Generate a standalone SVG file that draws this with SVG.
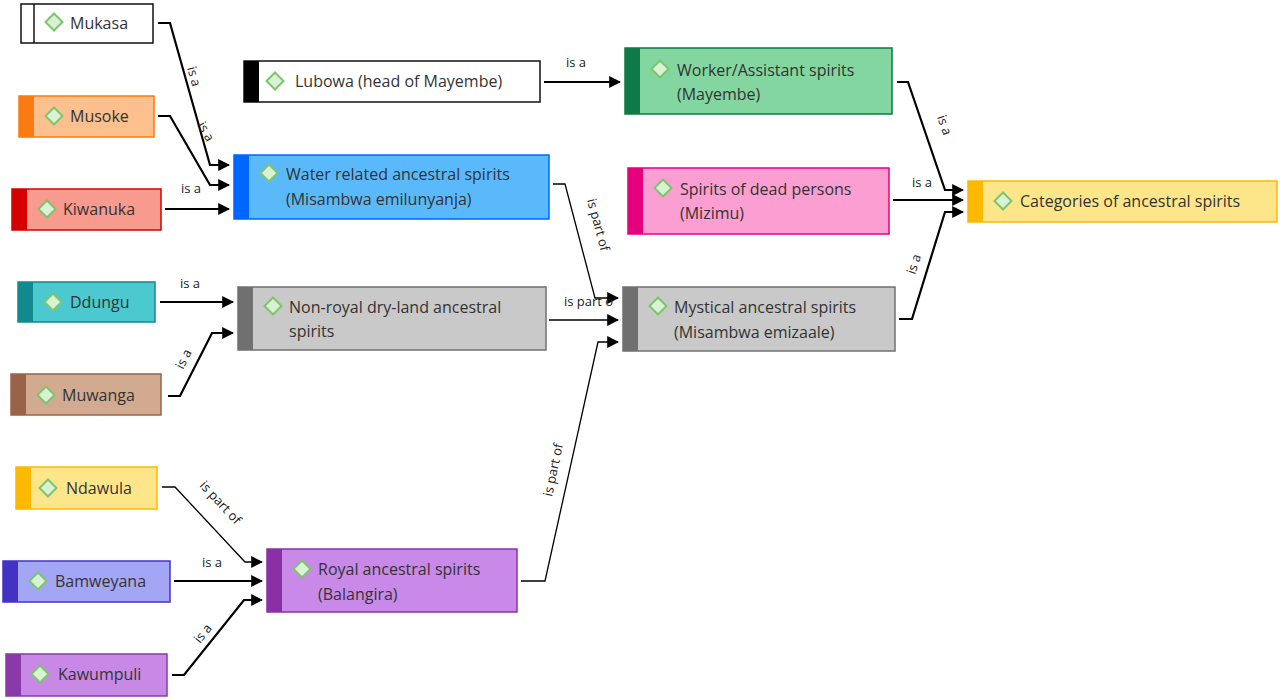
<svg xmlns="http://www.w3.org/2000/svg" width="1280" height="699" viewBox="0 0 1280 699">
<style>
text{font-family:"Open Sans","Liberation Sans",sans-serif;fill:#333}
.t{font-size:16px}
.l{font-size:13px;fill:#222}
.c{fill:none;stroke:#000;stroke-width:2.2;marker-end:url(#a)}
.c1{fill:none;stroke:#000;stroke-width:1.3;marker-end:url(#a)}
.d{fill:#d9f2d4;stroke:#7ec46f;stroke-width:2}
</style>
<defs>
<marker id="a" viewBox="0 0 10 10" refX="9" refY="5" markerWidth="5" markerHeight="5" markerUnits="userSpaceOnUse" orient="auto"><path d="M0,0L10,5L0,10z" fill="#000"/></marker>
<marker id="b" viewBox="0 0 10 10" refX="9" refY="5" markerWidth="12" markerHeight="12" markerUnits="userSpaceOnUse" orient="auto"><path d="M0,0L10,5L0,10z" fill="#000"/></marker>
</defs>
<rect width="1280" height="699" fill="#fff"/>
<g id="connectors" style="marker-end:url(#b)">
<path class="c" style="marker-end:url(#b)" d="M158,23H170L210,165H229"/>
<path class="c" style="marker-end:url(#b)" d="M158,116H170L210,185H229"/>
<path class="c" style="marker-end:url(#b)" d="M165,209H229"/>
<path class="c" style="marker-end:url(#b)" d="M160,302H233"/>
<path class="c" style="marker-end:url(#b)" d="M168,396H180L212,333H233"/>
<path class="c1" style="marker-end:url(#b)" d="M162,487H175L245,562H262"/>
<path class="c" style="marker-end:url(#b)" d="M174,581H262"/>
<path class="c" style="marker-end:url(#b)" d="M172,675H184L244,600H262"/>
<path class="c" style="marker-end:url(#b)" d="M544,82H620"/>
<path class="c1" style="marker-end:url(#b)" d="M553,184H565L595,298H618"/>
<path class="c1" style="marker-end:url(#b)" d="M549,320H618"/>
<path class="c1" style="marker-end:url(#b)" d="M521,581H545L598,342H618"/>
<path class="c" style="marker-end:url(#b)" d="M897,82H908L945,190H963"/>
<path class="c" style="marker-end:url(#b)" d="M893,200H963"/>
<path class="c" style="marker-end:url(#b)" d="M899,319H912L945,212H963"/>
<text class="l" transform="translate(187,68) rotate(74)">is a</text>
<text class="l" transform="translate(197,125) rotate(60)">is a</text>
<text class="l" x="181" y="193">is a</text>
<text class="l" x="180" y="288">is a</text>
<text class="l" transform="translate(183,370) rotate(-63)">is a</text>
<text class="l" transform="translate(199,486) rotate(47)">is part of</text>
<text class="l" x="202" y="567">is a</text>
<text class="l" transform="translate(200,644) rotate(-51)">is a</text>
<text class="l" x="566" y="67">is a</text>
<text class="l" transform="translate(587,200) rotate(75)">is part of</text>
<text class="l" x="564" y="306">is part o</text>
<text class="l" transform="translate(552,497) rotate(-78)">is part of</text>
<text class="l" transform="translate(937,117) rotate(71)">is a</text>
<text class="l" x="912" y="187">is a</text>
<text class="l" transform="translate(915,275) rotate(-72)">is a</text>
</g>
<g id="n-mukasa"><rect x="21" y="4" width="132" height="39" fill="#fff" stroke="#111" stroke-width="1.5"/><line x1="34" y1="4" x2="34" y2="43" stroke="#111" stroke-width="1.5"/><rect class="d" x="48" y="16" width="12" height="12" transform="rotate(45 54 22)"/><text class="t" x="70" y="29">Mukasa</text></g>
<g id="n-musoke"><rect x="19" y="96" width="135" height="41" fill="#fbc08d" stroke="#f97b12" stroke-width="1.5"/><rect x="19" y="96" width="15" height="41" fill="#f97b12"/><rect class="d" x="48" y="110" width="12" height="12" transform="rotate(45 54 116)"/><text class="t" x="70" y="122">Musoke</text></g>
<g id="n-kiwanuka"><rect x="12" y="189" width="149" height="41" fill="#f99a8e" stroke="#d60000" stroke-width="1.5"/><rect x="12" y="189" width="15" height="41" fill="#d60000"/><rect class="d" x="41" y="203" width="12" height="12" transform="rotate(45 47 209)"/><text class="t" x="63" y="215">Kiwanuka</text></g>
<g id="n-ddungu"><rect x="18" y="282" width="137" height="40" fill="#4cc9cf" stroke="#10898f" stroke-width="1.5"/><rect x="18" y="282" width="15" height="40" fill="#10898f"/><rect class="d" x="47" y="296" width="12" height="12" transform="rotate(45 53 302)"/><text class="t" x="70" y="308">Ddungu</text></g>
<g id="n-muwanga"><rect x="11" y="374" width="150" height="41" fill="#d1aa90" stroke="#9a6249" stroke-width="1.5"/><rect x="11" y="374" width="15" height="41" fill="#9a6249"/><rect class="d" x="40" y="389" width="12" height="12" transform="rotate(45 46 395)"/><text class="t" x="62" y="401">Muwanga</text></g>
<g id="n-ndawula"><rect x="16" y="467" width="141" height="42" fill="#fde68a" stroke="#fdb900" stroke-width="1.5"/><rect x="16" y="467" width="15" height="42" fill="#fdb900"/><rect class="d" x="42" y="482" width="12" height="12" transform="rotate(45 48 488)"/><text class="t" x="66" y="494">Ndawula</text></g>
<g id="n-bamweyana"><rect x="3" y="561" width="167" height="41" fill="#a3a6f5" stroke="#4432c4" stroke-width="1.5"/><rect x="3" y="561" width="15" height="41" fill="#4432c4"/><rect class="d" x="32" y="575" width="12" height="12" transform="rotate(45 38 581)"/><text class="t" x="55" y="587">Bamweyana</text></g>
<g id="n-kawumpuli"><rect x="6" y="654" width="161" height="42" fill="#c889e6" stroke="#8a3aa8" stroke-width="1.5"/><rect x="6" y="654" width="15" height="42" fill="#8a3aa8"/><rect class="d" x="34" y="668" width="12" height="12" transform="rotate(45 40 674)"/><text class="t" x="58" y="680">Kawumpuli</text></g>
<g id="n-lubowa"><rect x="244" y="61" width="296" height="41" fill="#fff" stroke="#111" stroke-width="1.5"/><rect x="244" y="61" width="15" height="41" fill="#000"/><rect class="d" x="269" y="75" width="12" height="12" transform="rotate(45 275 81)"/><text class="t" x="295" y="87">Lubowa (head of Mayembe)</text></g>
<g id="n-water"><rect x="234" y="155" width="315" height="64" fill="#5ab9fb" stroke="#0066ff" stroke-width="1.5"/><rect x="234" y="155" width="15" height="64" fill="#0066ff"/><rect class="d" x="263" y="167" width="12" height="12" transform="rotate(45 269 173)"/><text class="t" x="286" y="180">Water related ancestral spirits</text><text class="t" x="286" y="205">(Misambwa emilunyanja)</text></g>
<g id="n-nonroyal"><rect x="238" y="287" width="308" height="63" fill="#c9c9c9" stroke="#707070" stroke-width="1.5"/><rect x="238" y="287" width="15" height="63" fill="#707070"/><rect class="d" x="267" y="300" width="12" height="12" transform="rotate(45 273 306)"/><text class="t" x="289" y="313">Non-royal dry-land ancestral</text><text class="t" x="289" y="337">spirits</text></g>
<g id="n-royal"><rect x="267" y="549" width="250" height="63" fill="#c989e8" stroke="#8a2fa5" stroke-width="1.5"/><rect x="267" y="549" width="15" height="63" fill="#8a2fa5"/><rect class="d" x="296" y="563" width="12" height="12" transform="rotate(45 302 569)"/><text class="t" x="318" y="575">Royal ancestral spirits</text><text class="t" x="318" y="600">(Balangira)</text></g>
<g id="n-worker"><rect x="625" y="48" width="267" height="66" fill="#83d6a0" stroke="#0e7a46" stroke-width="1.5"/><rect x="625" y="48" width="15" height="66" fill="#0e7a46"/><rect class="d" x="654" y="63" width="12" height="12" transform="rotate(45 660 69)"/><text class="t" x="677" y="76">Worker/Assistant spirits</text><text class="t" x="677" y="100">(Mayembe)</text></g>
<g id="n-dead"><rect x="628" y="168" width="261" height="66" fill="#fb9fd2" stroke="#e6007e" stroke-width="1.5"/><rect x="628" y="168" width="15" height="66" fill="#e6007e"/><rect class="d" x="657" y="182" width="12" height="12" transform="rotate(45 663 188)"/><text class="t" x="680" y="195">Spirits of dead persons</text><text class="t" x="680" y="219">(Mizimu)</text></g>
<g id="n-mystical"><rect x="623" y="287" width="272" height="64" fill="#c9c9c9" stroke="#707070" stroke-width="1.5"/><rect x="623" y="287" width="15" height="64" fill="#707070"/><rect class="d" x="652" y="300" width="12" height="12" transform="rotate(45 658 306)"/><text class="t" x="674" y="313">Mystical ancestral spirits</text><text class="t" x="674" y="338">(Misambwa emizaale)</text></g>
<g id="n-categories"><rect x="968" y="181" width="309" height="41" fill="#fde68a" stroke="#fdb900" stroke-width="1.5"/><rect x="968" y="181" width="15" height="41" fill="#fdb900"/><rect class="d" x="997" y="195" width="12" height="12" transform="rotate(45 1003 201)"/><text class="t" x="1020" y="207">Categories of ancestral spirits</text></g>
</svg>
